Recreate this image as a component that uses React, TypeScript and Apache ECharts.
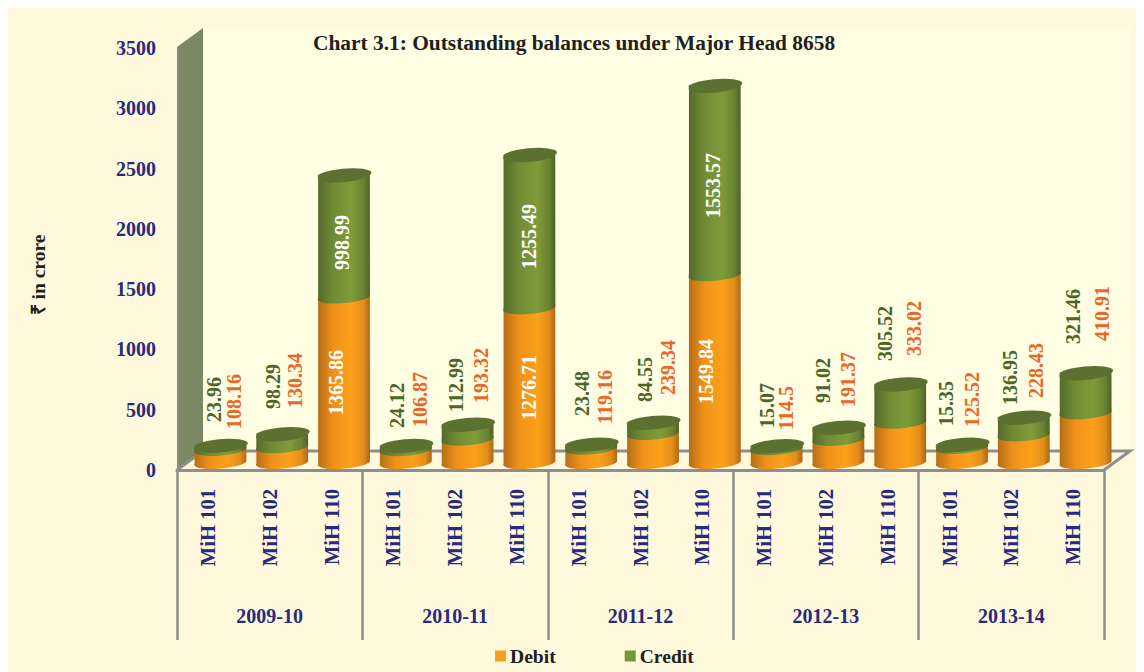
import React, { useEffect, useRef } from "react";
import * as echarts from "echarts";

const barLabels = [
  "MiH 101", "MiH 102", "MiH 110", "MiH 101", "MiH 102", "MiH 110", "MiH 101", "MiH 102",
  "MiH 110", "MiH 101", "MiH 102", "MiH 110", "MiH 101", "MiH 102", "MiH 110",
];
const years = ["2009-10", "2010-11", "2011-12", "2012-13", "2013-14"];
const debit = [108.16, 130.34, 1365.86, 106.87, 193.32, 1276.71, 119.16, 239.34, 1549.84, 114.5, 191.37, 333.02, 125.52, 228.43, 410.91];
const credit = [23.96, 98.29, 998.99, 24.12, 112.99, 1255.49, 23.48, 84.55, 1553.57, 15.07, 91.02, 305.52, 15.35, 136.95, 321.46];
const yTicks = { min: 0, max: 3500, interval: 500 };

// label anchors on the page: centre x of the rotated text, y of its lower end
const debitLabelAt = [
  [234, 429], [295, 408], [336, 415], [420, 427], [481, 403], [529, 420], [605, 424], [668, 395],
  [706, 404], [786, 430], [848, 407], [914, 356], [972, 427], [1036, 398], [1102, 341],
];
const creditLabelAt = [
  [214, 422], [273, 409], [342, 270], [397, 428], [456, 412], [529, 269], [582, 416], [645, 402],
  [713, 218], [767, 428], [823, 403], [885, 361], [946, 426], [1010, 405], [1073, 344],
];
const whiteDebit = [2, 5, 8];
const whiteCredit = [2, 5, 8];

const PAGE = 8;
const FONT = '"Liberation Serif", "Times New Roman", serif';
const NAVY = "#2a2a7c";
const GREY = "#8e8e8e";
const BG = "#fef9dc";
const TILT = 5;
const RY = 6;
const BASE_SHIFT = { x: 12.5, y: -8.5 };
const DEPTH_SCALE = 1.005; // bars stand slightly nearer than the value wall

const grad = (stops: string[]) =>
  new echarts.graphic.LinearGradient(0, 0, 1, 0, [
    { offset: 0, color: stops[0] },
    { offset: 0.3, color: stops[1] },
    { offset: 0.65, color: stops[2] },
    { offset: 0.88, color: stops[3] },
    { offset: 1, color: stops[4] },
  ]);

function cylinder(kind: "debit" | "credit") {
  return (params: any, api: any) => {
    const i = api.value(0);
    const lo = kind === "debit" ? 0 : api.value(1);
    const hi = kind === "debit" ? api.value(1) : api.value(1) + api.value(2);
    const zero = api.coord([i, 0]);
    const b = api.coord([i, lo]);
    const t = api.coord([i, hi]);
    const r = api.size([1, 0])[0] * 0.42;
    const cx = b[0] + BASE_SHIFT.x;
    const by = zero[1] + (b[1] - zero[1]) * DEPTH_SCALE + BASE_SHIFT.y;
    const ty = zero[1] + (t[1] - zero[1]) * DEPTH_SCALE + BASE_SHIFT.y;
    const rad = (TILT * Math.PI) / 180;
    const dx = r * Math.cos(rad);
    const dy = r * Math.sin(rad);
    const arc = (sweep: number, x: number, y: number) => `A ${r} ${RY} ${-TILT} 0 ${sweep} ${x} ${y}`;
    const body = `M ${cx - dx} ${ty + dy} L ${cx - dx} ${by + dy} ${arc(0, cx + dx, by - dy)} L ${cx + dx} ${ty - dy} ${arc(1, cx - dx, ty + dy)} Z`;
    const children: any[] = [
      {
        type: "path",
        shape: { pathData: body },
        style: {
          fill:
            kind === "debit"
              ? grad(["#b56d16", "#f0911a", "#fda01a", "#e28c1a", "#a9661a"])
              : grad(["#55692b", "#6f8c35", "#7f9c3a", "#688330", "#4e6128"]),
        },
      },
    ];
    if (kind === "credit") {
      children.push({
        type: "path",
        shape: { pathData: `M ${cx - dx} ${ty + dy} ${arc(0, cx + dx, ty - dy)} ${arc(0, cx - dx, ty + dy)} Z` },
        style: { fill: "#5c7131" },
      });
    }
    const at = (kind === "debit" ? debitLabelAt : creditLabelAt)[i];
    const white = (kind === "debit" ? whiteDebit : whiteCredit).includes(i);
    children.push({
      type: "text",
      x: at[0] - PAGE,
      y: at[1] - PAGE,
      rotation: Math.PI / 2,
      style: {
        text: String(kind === "debit" ? debit[i] : credit[i]),
        fill: white ? "#ffffff" : kind === "debit" ? "#e8672a" : "#4c6629",
        font: `bold 20px ${FONT}`,
        align: "left",
        verticalAlign: "middle",
      },
    });
    return { type: "group", children };
  };
}

export default function App() {
  const ref = useRef<HTMLDivElement>(null);
  useEffect(() => {
    document.body.style.overflow = "hidden";
    const chart = echarts.init(ref.current!, null, { renderer: "svg" });
    const L = 169, T = 40, W = 927, H = 422;
    const R = L + W, B = T + H;
    const dX = 26, dY = -19, wallTop = T - 1;
    chart.setOption({
      animation: false,
      backgroundColor: BG,
      title: {
        text: "Chart 3.1: Outstanding balances under Major Head 8658",
        left: 300,
        top: 19,
        textStyle: { fontFamily: FONT, fontWeight: "bold", fontSize: 21.4, color: "#231f20" },
      },
      legend: {
        left: 487,
        top: 638,
        itemWidth: 11,
        itemHeight: 11,
        itemGap: 69,
        padding: 0,
        selectedMode: false,
        data: [
          { name: "Debit", icon: "rect" },
          { name: "Credit", icon: "rect" },
        ],
        textStyle: { fontFamily: FONT, fontWeight: "bold", fontSize: 19.6, color: "#231f20", padding: [0, 0, 0, -1] },
      },
      grid: { left: L, top: T, width: W, height: H, containLabel: false },
      xAxis: [
        {
          type: "category",
          data: barLabels,
          axisLine: { show: false },
          axisTick: { show: false },
          axisLabel: {
            interval: 0,
            rotate: 90,
            margin: 19,
            fontFamily: FONT,
            fontWeight: "bold",
            fontSize: 20.6,
            color: NAVY,
          },
        },
        {
          type: "category",
          position: "bottom",
          data: years,
          axisLine: { show: true, lineStyle: { color: GREY, width: 3 } },
          axisTick: { show: true, length: 170, lineStyle: { color: GREY, width: 2.5 } },
          axisLabel: {
            interval: 0,
            margin: 136,
            fontFamily: FONT,
            fontWeight: "bold",
            fontSize: 20,
            color: NAVY,
          },
        },
      ],
      yAxis: {
        type: "value",
        min: yTicks.min,
        max: yTicks.max,
        interval: yTicks.interval,
        name: "₹ in crore",
        nameLocation: "middle",
        nameGap: 129,
        nameRotate: 90,
        nameTextStyle: { fontFamily: FONT, fontWeight: "bold", fontSize: 19.5, color: "#231f20", padding: [0, 32, 0, 0] },
        axisLine: { show: false },
        axisTick: { show: false },
        splitLine: { show: false },
        axisLabel: {
          margin: 21,
          fontFamily: FONT,
          fontWeight: "bold",
          fontSize: 20,
          color: NAVY,
          padding: [4, 0, 0, 0],
          formatter: (v: number) => String(v),
        },
      },
      graphic: [
        {
          type: "polygon",
          z: -3,
          shape: { points: [[L + dX, wallTop + dY], [R + dX, wallTop + dY], [R + dX, B + dY], [L + dX, B + dY]] },
          style: { fill: "#fffde2" },
        },
        {
          type: "polygon",
          z: -2,
          shape: { points: [[L, wallTop], [L + dX, wallTop + dY], [L + dX, B + dY], [L, B]] },
          style: {
            fill: new echarts.graphic.LinearGradient(0, 0, 1, 0, [
              { offset: 0, color: "#8c8c8c" },
              { offset: 0.12, color: "#7e8866" },
              { offset: 1, color: "#7b8762" },
            ]),
          },
        },
        {
          type: "polyline",
          z: -1,
          shape: { points: [[L, B], [L + dX, B + dY], [R + dX, B + dY], [R, B]] },
          style: { stroke: GREY, lineWidth: 3, fill: "none" },
        },
      ],
      series: [
        {
          name: "Debit",
          type: "custom",
          xAxisIndex: 0,
          renderItem: cylinder("debit"),
          itemStyle: { color: "#fb9d1b" },
          encode: { x: 0, y: 1 },
          data: debit.map((d, i) => [i, d, credit[i]]),
          z: 3,
        },
        {
          name: "Credit",
          type: "custom",
          xAxisIndex: 0,
          renderItem: cylinder("credit"),
          itemStyle: { color: "#779536" },
          encode: { x: 0, y: 1 },
          data: debit.map((d, i) => [i, d, credit[i]]),
          z: 4,
        },
      ],
    });
    return () => chart.dispose();
  }, []);
  return <div ref={ref} style={{ width: 1136, height: 664 }} />;
}
